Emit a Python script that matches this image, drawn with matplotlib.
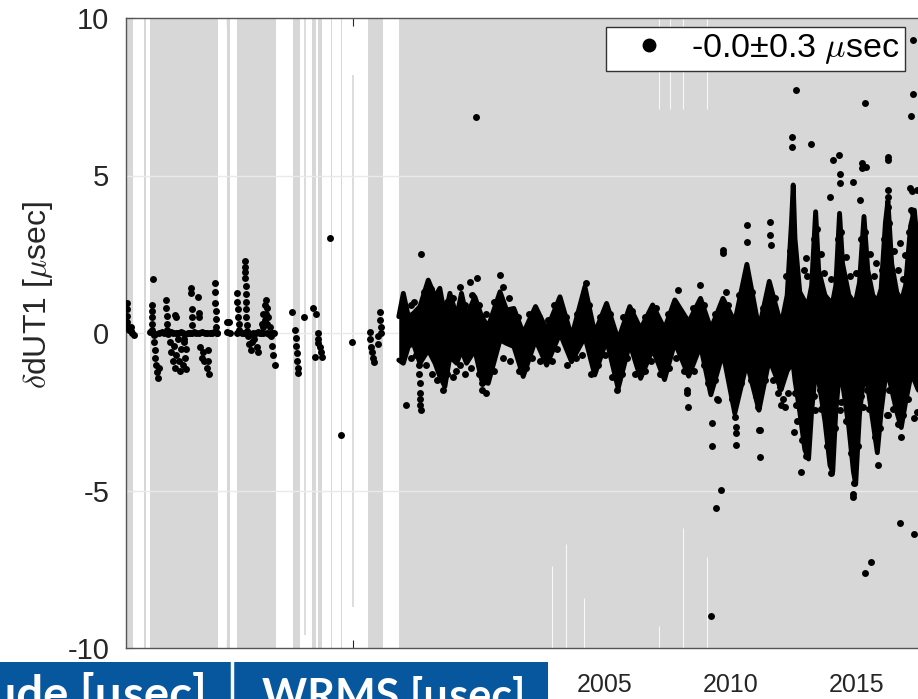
import matplotlib
matplotlib.use('Agg')
import matplotlib.pyplot as plt
from matplotlib.lines import Line2D
from matplotlib.patches import Rectangle

plt.rcParams['font.family'] = ['Liberation Sans', 'DejaVu Sans']
plt.rcParams['mathtext.fontset'] = 'cm'
plt.rcParams['axes.unicode_minus'] = False

# grey periods (decimal years)
span_start = [1986.00, 1986.72, 1986.95, 1990.01, 1990.40, 1992.63, 1993.38, 1993.62, 1994.13, 1994.53, 1995.60, 1996.83]
span_end = [1986.28, 1986.78, 1989.65, 1990.13, 1991.95, 1992.90, 1993.54, 1993.78, 1994.17, 1994.57, 1996.20, 2018.50]

# partial grey lines (year, from, to)
pline_x = [1993.10, 1995.00]
pline_lo = [-9.6, -8.7]
pline_hi = [10.0, 8.2]

# white gaps inside the long grey period
gap_x = [2002.90, 2003.46, 2004.17, 2007.15, 2007.15, 2007.59, 2008.10, 2008.10, 2009.06, 2009.06]
gap_lo = [-10.0, -10.0, -10.0, -10.0, 7.1, 7.1, -10.0, 7.1, -10.0, 7.1]
gap_hi = [-7.4, -6.7, -8.4, -9.3, 10.0, 10.0, -6.2, 10.0, -7.1, 10.0]

# dense part of the series: spread of the points per epoch
band_years = [1996.83, 1997.01, 1997.21, 1997.41, 1997.67, 1998.00, 1998.27, 1998.46, 1998.66, 1998.86,
              1999.13, 1999.32, 1999.52, 1999.85, 2000.12, 2000.38, 2000.85, 2001.11, 2001.40, 2001.77,
              2002.26, 2002.70, 2003.23, 2003.69, 2004.22, 2004.61, 2005.08, 2005.54, 2006.00, 2006.43,
              2006.91, 2007.38, 2007.79, 2008.34, 2008.81, 2009.22, 2009.70, 2010.17, 2010.65, 2011.13,
              2011.54, 2012.01, 2012.25, 2012.42, 2012.49, 2012.56, 2012.75, 2012.95, 2013.10, 2013.22,
              2013.38, 2013.50, 2013.75, 2013.95, 2014.06, 2014.18, 2014.33, 2014.45, 2014.70, 2014.88,
              2014.97, 2015.12, 2015.30, 2015.45, 2015.65, 2015.83, 2015.98, 2016.15, 2016.25, 2016.40,
              2016.60, 2016.78, 2016.95, 2017.15, 2017.30, 2017.45, 2017.70]
band_hi = [0.52, 1.26, 0.52, 0.62, 0.84, 1.68, 1.15, 1.42, 0.52, 1.26,
           0.52, 1.26, 0.52, 1.15, 0.52, 0.20, 1.31, 0.73, 0.78, -0.01,
           0.84, 0.10, 1.15, -0.12, 1.47, -0.01, 0.94, -0.22, 0.84, 0.13,
           0.89, 0.13, 1.05, 0.35, 1.10, 0.13, 1.10, 0.35, 2.18, 0.13,
           1.64, 0.24, 1.2, 3.5, 4.7, 3.0, 1.3, 1.0, 1.0, 1.5,
           3.85, 2.0, 1.2, 1.0, 1.0, 1.5, 3.8, 2.2, 1.2, 1.0,
           1.0, 1.6, 3.7, 2.0, 1.2, 1.0, 1.4, 3.5, 4.2, 2.2,
           1.3, 1.0, 1.5, 3.4, 3.9, 2.6, 1.5]
band_lo = [-0.86, -0.96, -0.43, -0.33, -0.96, -0.54, -0.96, -1.38, -1.70, -0.75,
           -0.96, -0.54, -0.96, -0.54, -1.49, -1.60, -0.22, -0.33, -0.43, -1.38,
           -0.22, -1.02, -0.01, -0.91, -0.12, -1.33, -0.22, -1.76, -0.33, -1.44,
           -0.51, -1.48, -0.30, -1.37, -0.40, -1.96, -0.62, -2.55, -0.94, -2.45,
           -0.83, -1.8, -1.2, -1.0, -1.0, -1.5, -2.5, -3.7, -4.0, -2.5,
           -1.2, -1.5, -2.8, -4.2, -4.4, -2.5, -1.2, -1.6, -3.0, -4.4,
           -4.8, -2.6, -1.3, -1.7, -2.8, -3.8, -2.5, -1.4, -1.3, -1.8,
           -2.5, -3.0, -2.2, -1.4, -1.5, -1.8, -2.0]

# early sessions (sparse)
early_x = [1986.02, 1986.03, 1986.04, 1986.05, 1986.07, 1986.12, 1986.18, 1986.25, 1986.32, 1986.20,
           1987.06, 1987.02, 1987.02, 1987.03, 1987.03, 1987.04,
           1987.10, 1987.12, 1987.14, 1987.16, 1987.20, 1987.25, 1987.28, 1987.30,
           1987.60, 1987.60, 1987.61, 1987.62, 1987.63,
           1987.75, 1987.80, 1987.85, 1987.90, 1987.95, 1988.00, 1988.05, 1988.10, 1988.15, 1988.20,
           1988.25, 1988.30, 1988.35, 1988.40, 1987.94, 1988.00, 1988.30, 1988.40,
           1988.60, 1988.60, 1988.61, 1988.62, 1988.63, 1988.64,
           1988.87, 1988.88, 1988.89, 1988.95, 1989.00, 1989.05, 1989.10,
           1989.26, 1989.27, 1989.28, 1989.20,
           1989.53, 1989.54, 1989.55, 1989.56, 1989.57, 1989.58, 1989.60,
           1986.97, 1987.08, 1987.17, 1987.31, 1987.42, 1987.50, 1987.68, 1987.77, 1987.86, 1987.98,
           1988.07, 1988.18, 1988.27, 1988.36, 1988.45, 1988.53, 1988.70, 1988.78, 1988.90, 1989.02,
           1989.12, 1989.21, 1989.33, 1989.42, 1989.50, 1989.62,
           1990.00, 1990.02, 1990.10, 1990.12,
           1990.40, 1990.42, 1990.44, 1990.46, 1990.48, 1990.50,
           1990.72, 1990.73, 1990.74, 1990.74, 1990.75, 1990.75, 1990.76, 1990.77, 1990.78, 1990.79, 1990.80,
           1990.85, 1990.90, 1990.95, 1991.10, 1991.20, 1991.00, 1991.25,
           1991.32, 1991.38, 1991.44, 1991.50, 1991.55, 1991.60, 1991.65, 1991.70, 1991.75, 1991.80,
           1991.85, 1991.91, 1991.50, 1991.60, 1991.45, 1991.55,
           1990.42, 1990.50, 1990.60, 1990.68, 1990.85, 1990.95, 1991.05, 1991.15, 1991.25, 1991.35,
           1991.45, 1991.58, 1991.68, 1991.78, 1991.88,
           1992.60, 1992.72, 1992.74, 1992.76, 1992.78, 1992.80, 1992.82, 1992.84,
           1993.07, 1993.43, 1993.56, 1993.62, 1993.63, 1993.64, 1993.70, 1993.75, 1993.80, 1993.50,
           1994.10, 1994.53, 1994.99,
           1995.68, 1995.70, 1995.72, 1995.78, 1995.82, 1995.86, 1996.08, 1996.10, 1996.12, 1996.14,
           1996.00, 1996.02]
early_y = [0.95, 0.75, 0.55, 0.35, 0.20, 0.10, 0.05, 0.00, -0.05, 0.20,
           1.70, 0.89, 0.70, 0.50, 0.30, 0.10,
           -0.05, -0.30, -0.55, -0.80, -1.00, -1.25, -1.44, -1.10,
           1.05, 0.80, 0.55, 0.30, 0.10,
           -0.30, -0.60, -0.90, -0.40, -1.10, -0.70, -0.20, -0.90, -1.20, -0.50,
           -1.00, -0.30, -0.80, -1.15, 0.57, 0.52, -0.20, -0.50,
           1.42, 1.26, 0.75, 0.50, 0.25, 0.00,
           1.15, 0.62, 0.52, -0.45, -0.80, -0.60, -0.90,
           -0.55, -0.90, -1.30, -1.10,
           1.58, 1.31, 0.95, 0.70, 0.45, 0.20, 0.00,
           0.02, 0.00, -0.02, 0.01, 0.03, 0.00, -0.02, 0.02, 0.00, 0.01,
           -0.01, 0.02, 0.00, -0.02, 0.01, 0.00, 0.02, -0.01, 0.00, 0.02,
           0.00, -0.01, 0.01, 0.00, 0.02, -0.01,
           0.36, 0.02, 0.36, 0.00,
           1.26, 1.00, 0.75, 0.50, 0.30, 0.10,
           2.30, 2.10, 1.95, 1.75, 1.50, 1.25, 1.00, 0.75, 0.50, 0.25, 0.05,
           -0.10, -0.35, -0.55, -0.20, -0.45, -0.30, -0.60,
           0.00, 0.30, 0.60, 0.90, 1.05, 0.80, 0.50, 0.20, -0.10, -0.40,
           -0.70, -1.02, 0.40, 0.30, 0.20, 0.60,
           0.00, 0.02, -0.01, 0.01, 0.00, -0.02, 0.01, 0.00, 0.02, -0.01,
           0.00, 0.01, -0.02, 0.00, 0.01,
           0.68, 0.10, -0.15, -0.40, -0.65, -0.90, -1.10, -1.28,
           0.52, 0.78, 0.60, 0.00, -0.20, -0.33, -0.43, -0.60, -0.75, -0.75,
           3.02, -3.24, -0.28,
           0.04, -0.20, -0.45, -0.60, -0.80, -0.91, 0.68, 0.41, 0.20, 0.00,
           -0.10, -0.35]

# points just above / below the dense part
edge_x = [1997.30, 1997.45, 1997.85, 1998.10, 1998.35, 1998.75, 1999.00, 1999.25, 1999.45, 1999.75,
          2000.00, 2000.30, 2000.60, 2000.95, 2001.20, 2001.55, 2002.00, 2002.40, 2002.75, 2003.00,
          2003.45, 2003.90, 2004.25, 2004.40, 2004.80, 2005.20, 2005.75, 2006.10, 2006.60, 2007.05,
          2007.50, 2008.00, 2008.50, 2008.95, 2009.40, 2009.90, 2010.35, 2010.85, 2011.30, 2011.75,
          1997.30, 1997.50, 1997.90, 1998.15, 1998.35, 1998.75, 1999.00, 1999.25, 1999.45, 1999.70,
          2000.00, 2000.30, 2000.60, 2000.95, 2001.25, 2001.60, 2001.90, 2002.10, 2002.45, 2002.90,
          2003.10, 2003.50, 2003.85, 2004.10, 2004.45, 2004.75, 2005.00, 2005.30, 2005.70, 2005.90,
          2006.20, 2006.60, 2006.85, 2007.20, 2007.55, 2007.85, 2008.15, 2008.55, 2008.95, 2009.10,
          2009.40, 2009.90, 2010.05, 2010.40, 2010.80, 2011.00, 2011.35, 2011.70, 2011.90,
          2012.90, 2013.05, 2013.60, 2013.70, 2014.00, 2014.60, 2014.75, 2015.00, 2015.55, 2015.70,
          2016.00, 2016.50, 2016.65, 2016.85, 2017.05, 2012.20, 2012.35, 2013.30, 2014.25, 2015.20,
          2016.10, 2017.10, 2013.45, 2014.40, 2015.35, 2016.30,
          2012.30, 2012.65, 2012.85, 2013.00, 2013.30, 2013.60, 2013.85, 2014.15, 2014.40, 2014.60,
          2014.80, 2015.05, 2015.20, 2015.50, 2015.75, 2015.95, 2016.45, 2016.65, 2016.85, 2017.05,
          2017.40]
edge_y = [0.90, 1.00, 1.30, 1.40, 1.20, 1.00, 1.10, 1.45, 0.90, 1.20,
          0.90, 0.60, 1.00, 1.45, 1.10, 0.50, 0.60, 0.50, 0.41, 0.90,
          0.50, 0.60, 1.60, 0.90, 0.50, 0.60, 0.50, 0.70, 0.50, 0.80,
          0.60, 0.70, 0.80, 0.90, 0.60, 0.90, 1.20, 1.30, 0.80, 1.10,
          -0.80, -0.70, -1.00, -1.30, -1.50, -1.30, -1.40, -1.00, -1.30, -1.10,
          -1.30, -1.90, -1.20, -0.80, -0.90, -1.20, -1.10, -0.80, -0.90, -0.90,
          -0.50, -1.00, -0.80, -0.70, -1.30, -1.00, -0.70, -1.40, -1.30, -0.80,
          -1.30, -1.20, -0.90, -1.30, -1.10, -0.80, -1.20, -1.20, -1.00, -1.60,
          -1.50, -1.20, -2.10, -1.60, -1.50, -2.00, -1.50, -1.50, -1.90,
          2.00, 1.80, 2.50, 1.90, 1.70, 2.40, 1.80, 1.90, 2.50, 1.80,
          2.00, 2.60, 2.00, 1.70, 2.20, 1.80, 2.60, 3.00, 3.00, 3.00,
          3.00, 3.20, 3.30, 3.20, 3.20, 3.50,
          -1.90, -2.80, -3.40, -3.90, -2.00, -2.40, -3.60, -3.00, -2.20, -2.80,
          -3.80, -3.60, -2.00, -2.40, -3.30, -3.00, -2.40, -2.90, -2.60, -2.10,
          -2.50]

# scattered points outside the dense part
out_x = [1997.10, 1997.62, 1997.64, 1997.66, 1997.67, 1997.68, 1997.69, 1997.70, 1997.71, 1998.58,
         1999.12, 1999.65, 1999.92, 1999.89, 2000.15, 2000.10, 2000.12, 2000.84, 2005.48, 2007.93,
         2008.28, 2008.29, 2008.30, 2008.78, 2009.25, 2009.26, 2009.50, 2009.70, 2009.72, 2009.84,
         2009.63, 2009.41, 2009.21, 2010.19, 2010.20, 2010.21, 2010.23, 2010.65, 2010.66, 2011.12,
         2011.16, 2011.58, 2011.58, 2011.59, 2012.46, 2012.46, 2012.61, 2013.18, 2013.01, 2013.94,
         2014.07, 2014.29, 2014.33, 2014.34, 2014.85, 2015.13, 2015.23, 2015.24, 2015.39, 2015.26,
         2015.35, 2015.79, 2016.25, 2016.26, 2016.24, 2016.25, 2016.26, 2016.71, 2017.11, 2017.20,
         2017.39, 2017.15, 2017.25, 2017.24, 2017.24, 2017.18, 2016.92, 2012.52, 2012.81, 2016.71,
         2017.27, 2015.59, 2015.34, 2014.86, 2014.88, 2014.90, 2014.00, 2015.85, 2016.25, 2016.78,
         2012.15, 2012.10, 2011.17, 2009.45, 2010.83, 2011.10, 2011.95, 2012.00, 2012.55, 2012.60,
         2013.35, 2013.55, 2014.33, 2014.50, 2015.26, 2015.40, 2016.20, 2016.30, 2016.98, 2017.30]
out_y = [-2.29, -1.00, -1.30, -1.60, -1.90, -2.10, -2.30, -2.45, 2.51, -1.81,
         -1.20, 1.63, 1.74, 6.86, -1.81, -1.30, -1.60, 1.84, -1.81, 1.36,
         -1.81, -1.92, -2.34, 1.52, -2.87, -3.60, -2.13, 2.53, 2.63, 1.30,
         -4.98, -5.56, -8.98, -2.66, -2.98, -3.18, -3.56, 3.43, 2.89, -3.08,
         -3.94, 3.52, 3.11, 2.79, 6.23, 5.91, 7.73, 6.00, 2.37, 4.33,
         5.49, 5.65, 5.05, 4.76, 4.80, 4.22, 5.40, 5.24, 5.28, 9.51,
         7.29, 2.21, 5.60, 5.50, 4.54, 4.33, 4.00, 2.85, 4.60, 4.50,
         4.55, 3.90, 3.80, 9.30, 7.58, 6.89, 2.48, -3.15, -4.40, -6.04,
         -6.38, -7.26, -7.63, -5.10, -5.20, -4.77, -4.45, -4.20, -2.60, -3.31,
         -2.34, -2.10, -3.08, -2.10, -1.02, -2.34, -1.70, -2.30, -1.90, -2.30,
         -2.45, -1.80, -2.45, -1.70, -2.34, -1.80, -2.60, -1.80, -1.39, -2.70]

legend_label = '-0.0±0.3 $\\mu$sec'
x_ticks = [1990, 1995, 2000, 2005, 2010, 2015]
y_ticks = [-10, -5, 0, 5, 10]

W, H = 918, 699
fig = plt.figure(figsize=(W / 100, H / 100), dpi=100)
ax = fig.add_axes([126 / W, 51 / H, 806 / W, 630 / H])
ax.set_xlim(1986, 2018)
ax.set_ylim(-10, 10)
ax.set_axisbelow(True)

grey = '#d7d7d7'
for a, b in zip(span_start, span_end):
    ax.axvspan(a, b, color=grey, lw=0, zorder=1)
ax.vlines(pline_x, pline_lo, pline_hi, color=grey, lw=1.2, zorder=1)
ax.vlines(gap_x, gap_lo, gap_hi, color='white', lw=0.8, alpha=0.85, zorder=1.2)
for yv in [-5, 0, 5]:
    ax.axhline(yv, color='#eaeaea', lw=1.0, zorder=1.5)

# dense band
ax.fill_between(band_years, band_lo, band_hi, color='k', lw=0, zorder=2)
ax.plot(band_years, band_lo, color='k', lw=3.5, solid_joinstyle='round', solid_capstyle='round', zorder=2)
ax.plot(band_years, band_hi, color='k', lw=3.5, solid_joinstyle='round', solid_capstyle='round', zorder=2)

ax.plot(early_x, early_y, 'o', color='k', ms=5, mew=0, zorder=3)
ax.plot(edge_x, edge_y, 'o', color='k', ms=5, mew=0, zorder=3)
ax.plot(out_x, out_y, 'o', color='k', ms=5, mew=0, zorder=3)

ax.set_xticks(x_ticks)
ax.set_xticklabels([str(t) for t in x_ticks])
ax.set_yticks(y_ticks)
ax.set_yticklabels([str(t) for t in y_ticks])
ax.tick_params(direction='in', length=6, width=0.8, color='#262626', top=True, right=True)
ax.tick_params(axis='y', labelsize=21, pad=12, labelcolor='#262626')
ax.tick_params(axis='x', labelsize=18, pad=18, labelcolor='#262626')
for s in ax.spines.values():
    s.set_color('#555555')
    s.set_linewidth(1.0)

ax.set_ylabel('$\\delta$dUT1 [$\\mu$sec]', fontsize=23, color='#262626')
ax.yaxis.set_label_coords(-0.088, 0.56)

h = Line2D([], [], ls='none', marker='o', ms=9, color='k')
leg = ax.legend([h], [legend_label], loc='upper right', bbox_to_anchor=(905 / W, 1 - 27 / H),
                bbox_transform=fig.transFigure, fontsize=24.5, frameon=True, fancybox=False,
                edgecolor='#333333', framealpha=1, borderpad=0.15, handlelength=2.2,
                handletextpad=0.15, borderaxespad=0)
leg.get_frame().set_linewidth(1.0)
leg.set_zorder(5)

# table header of the slide overlapping the bottom
blue = '#07579e'
fig.add_artist(Rectangle((0, 0), 548 / W, 37 / H, transform=fig.transFigure, color=blue, lw=0, zorder=10))
fig.add_artist(Line2D([232 / W, 232 / W], [0, 37 / H], transform=fig.transFigure, color='white', lw=2.5, zorder=11))
fig.text(207 / W, -11 / H, 'Amplitude [μsec]', color='white', fontsize=34, fontweight='bold',
         family=['Lato', 'DejaVu Sans'], ha='right', va='baseline', zorder=12)
fig.text(262 / W, -11 / H, 'WRMS [μsec]', color='white', fontsize=31, fontweight='bold',
         family=['Lato', 'DejaVu Sans'], ha='left', va='baseline', zorder=12)

fig.savefig('out.png', dpi=100)
